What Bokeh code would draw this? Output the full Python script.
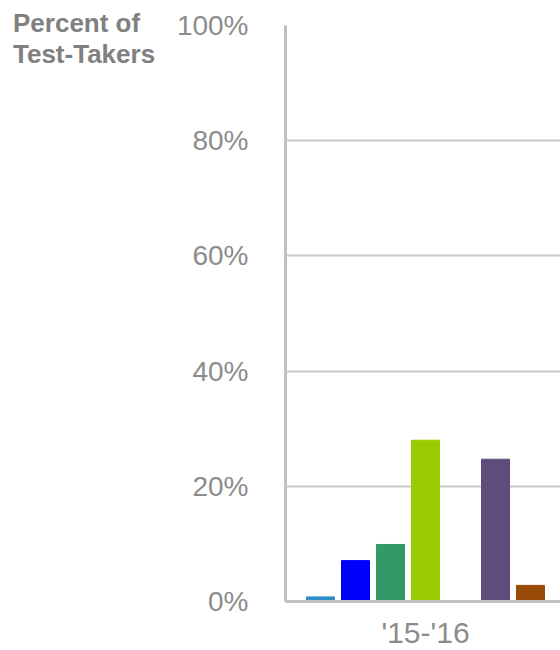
from bokeh.plotting import figure
from bokeh.layouts import row
from bokeh.models import ColumnDataSource, Range1d, FixedTicker, PrintfTickFormatter, Div
from bokeh.embed import file_html
from bokeh.resources import INLINE

# ---- data ----
category = "'15-'16"
series_names = ["Group 1", "Group 2", "Group 3", "Group 4", "Group 5", "Group 6", "Group 7"]
percent_values = [0.8, 7.1, 9.9, 28.0, 0.0, 24.7, 2.8]
series_colors = ["#2E8FC6", "#0000FF", "#339966", "#99CC00", "#FFFFFF", "#604C7C", "#994C08"]
y_ticks = [0, 20, 40, 60, 80, 100]
y_title_lines = ["Percent of", "Test-Takers"]

# ---- layout positions (category spans 0..1, centered at 0.5) ----
n = len(series_names)
step = 0.125
xs = [0.5 + (i - (n - 1) / 2) * step for i in range(n)]

source = ColumnDataSource(dict(x=xs, top=percent_values, color=series_colors, name=series_names))

# left strip holding the two-line y-axis title
title_html = ('<div style="font-family:\'Liberation Sans\',Arial,sans-serif;font-size:26px;'
              'font-weight:bold;color:#808080;line-height:31px;margin:0;padding:8px 0 0 13px;">'
              + "<br>".join(y_title_lines) + "</div>")
pt = Div(text=title_html, width=170, height=650, margin=0,
         styles={"margin": "0", "padding": "0"})

p = figure(title=None, frame_width=275, frame_height=576, output_backend="svg", toolbar_location=None,
           x_range=Range1d(0, 275 / 280), y_range=Range1d(0, 100),
           min_border_left=115, min_border_right=0, min_border_top=25, min_border_bottom=49)
p.outline_line_color = None
p.background_fill_color = "white"
p.border_fill_color = "white"

p.vbar(x="x", top="top", width=0.1, bottom=0, color="color", source=source)

# y axis
p.yaxis.ticker = FixedTicker(ticks=y_ticks)
p.yaxis.formatter = PrintfTickFormatter(format="%d%%")
p.yaxis.major_label_text_font = "Liberation Sans"
p.yaxis.major_label_text_font_size = "28px"
p.yaxis.major_label_text_color = "#8C8C8C"
p.yaxis.major_label_standoff = 31
p.yaxis.major_tick_line_color = None
p.yaxis.minor_tick_line_color = None
p.yaxis.axis_line_color = "#C0C0C0"
p.yaxis.axis_line_width = 3

# x axis
p.xaxis.ticker = FixedTicker(ticks=[0.5])
p.xaxis.major_label_overrides = {0.5: category}
p.xaxis.major_label_text_font = "Liberation Sans"
p.xaxis.major_label_text_font_size = "30px"
p.xaxis.major_label_text_line_height = 0.9
p.xaxis.major_label_text_color = "#8C8C8C"
p.xaxis.major_label_standoff = 14
p.xaxis.major_tick_line_color = None
p.xaxis.major_tick_out = 0
p.xaxis.minor_tick_line_color = None
p.xaxis.axis_line_color = "#C0C0C0"
p.xaxis.axis_line_width = 3

p.xgrid.grid_line_color = None
p.ygrid.grid_line_color = "#C8C8C8"
p.ygrid.grid_line_width = 2

layout = row(pt, p, spacing=0)
open("out.html", "w").write(file_html(layout, INLINE))
